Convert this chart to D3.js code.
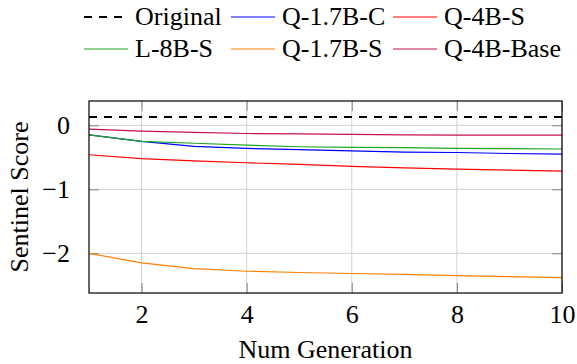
<!DOCTYPE html>
<html>
<head>
<meta charset="utf-8">
<script src="https://cdn.jsdelivr.net/npm/d3@7"></script>
<style>
  body { margin: 0; background: #fff; }
</style>
</head>
<body>
<svg></svg>
<script>
const width = 577;
const height = 364;

// x values (number of generations)
const generations = [1, 2, 3, 4, 5, 6, 7, 8, 9, 10];

// series values
const original   = [0.13, 0.13, 0.13, 0.13, 0.13, 0.13, 0.13, 0.13, 0.13, 0.13];
const q17bC      = [-0.15, -0.25, -0.33, -0.36, -0.38, -0.40, -0.42, -0.425, -0.44, -0.45];
const q4bS       = [-0.46, -0.52, -0.555, -0.585, -0.61, -0.64, -0.665, -0.685, -0.70, -0.715];
const l8bS       = [-0.15, -0.25, -0.28, -0.31, -0.335, -0.345, -0.35, -0.36, -0.365, -0.37];
const q17bS      = [-2.0, -2.15, -2.24, -2.28, -2.30, -2.315, -2.33, -2.35, -2.365, -2.38];
const q4bBase    = [-0.06, -0.09, -0.11, -0.128, -0.133, -0.143, -0.148, -0.152, -0.153, -0.154];

const seriesNames = ["Original", "Q-1.7B-C", "Q-4B-S", "L-8B-S", "Q-1.7B-S", "Q-4B-Base"];
const seriesValues = [original, q17bC, q4bS, l8bS, q17bS, q4bBase];

const xTicks = [2, 4, 6, 8, 10];
const yTicks = [0, -1, -2];

const colors = ["#000000", "#0000ff", "#ff0000", "#1fa51f", "#ff8000", "#c8104f"];

const series = seriesNames.map((name, i) => ({
  name: name,
  color: colors[i],
  dashed: i === 0,
  points: generations.map((g, j) => ({ x: g, y: seriesValues[i][j] }))
}));

// plot box
const plotLeft = 89, plotRight = 562, plotTop = 101, plotBottom = 293;
const serif = '"Liberation Serif", "Times New Roman", serif';

const svg = d3.select("svg")
  .attr("width", width)
  .attr("height", height);

const x = d3.scaleLinear().domain([1, 10]).range([plotLeft, plotRight]);
const y = d3.scaleLinear().domain([-2.62, 0.38]).range([plotBottom, plotTop]);

// grid
svg.append("g")
  .selectAll("line")
  .data(xTicks)
  .enter().append("line")
  .attr("x1", d => x(d)).attr("x2", d => x(d))
  .attr("y1", plotTop).attr("y2", plotBottom)
  .attr("stroke", "#d0d0d0")
  .attr("stroke-width", 1);

svg.append("g")
  .selectAll("line")
  .data(yTicks)
  .enter().append("line")
  .attr("x1", plotLeft).attr("x2", plotRight)
  .attr("y1", d => y(d)).attr("y2", d => y(d))
  .attr("stroke", "#d0d0d0")
  .attr("stroke-width", 1);

// inward tick marks on all four sides
const tickLen = 10;
function styleTicks(g) {
  g.select(".domain").remove();
  g.attr("font-family", serif).attr("font-size", 26);
  g.selectAll(".tick line").attr("stroke", "#888").attr("stroke-width", 1);
}

svg.append("g")
  .attr("transform", "translate(0," + plotBottom + ")")
  .call(d3.axisBottom(x).tickValues(xTicks).tickSizeInner(-tickLen).tickSizeOuter(0).tickPadding(14))
  .call(styleTicks)
  .call(g => g.selectAll(".tick text").attr("dy", "0.6em"));

svg.append("g")
  .attr("transform", "translate(0," + plotTop + ")")
  .call(d3.axisTop(x).tickValues(xTicks).tickSizeInner(-tickLen).tickSizeOuter(0).tickFormat(""))
  .call(styleTicks);

svg.append("g")
  .attr("transform", "translate(" + plotLeft + ",0)")
  .call(d3.axisLeft(y).tickValues(yTicks).tickSizeInner(-tickLen).tickSizeOuter(0).tickPadding(19)
    .tickFormat(d => d < 0 ? "\u2212" + Math.abs(d) : String(d)))
  .call(styleTicks);

svg.append("g")
  .attr("transform", "translate(" + plotRight + ",0)")
  .call(d3.axisRight(y).tickValues(yTicks).tickSizeInner(-tickLen).tickSizeOuter(0).tickFormat(""))
  .call(styleTicks);

// lines
svg.append("clipPath").attr("id", "plot-clip")
  .append("rect")
  .attr("x", plotLeft).attr("y", plotTop)
  .attr("width", plotRight - plotLeft).attr("height", plotBottom - plotTop);

const line = d3.line()
  .x(d => x(d.x))
  .y(d => y(d.y));

svg.append("g")
  .attr("clip-path", "url(#plot-clip)")
  .selectAll("path")
  .data(series)
  .enter().append("path")
  .attr("d", d => line(d.points))
  .attr("fill", "none")
  .attr("stroke", d => d.color)
  .attr("stroke-width", d => d.dashed ? 2.2 : 1.2)
  .attr("stroke-dasharray", d => d.dashed ? "8,7" : null);

// frame
svg.append("rect")
  .attr("x", plotLeft).attr("y", plotTop)
  .attr("width", plotRight - plotLeft).attr("height", plotBottom - plotTop)
  .attr("fill", "none")
  .attr("stroke", "#000")
  .attr("stroke-width", 1.2);

// axis titles
svg.append("text")
  .attr("x", (plotLeft + plotRight) / 2)
  .attr("y", 358)
  .attr("text-anchor", "middle")
  .text("Num Generation");

svg.append("text")
  .attr("transform", "translate(28," + (plotTop + plotBottom) / 2 + ") rotate(-90)")
  .attr("text-anchor", "middle")
  .text("Sentinel Score");

// legend, 3 columns x 2 rows
const legendCols = [84, 231, 393];
const legendRows = [17, 49];

const legend = svg.append("g")
  .selectAll("g")
  .data(series)
  .enter().append("g")
  .attr("transform", (d, i) => "translate(" + legendCols[i % 3] + "," + legendRows[Math.floor(i / 3)] + ")");

legend.append("line")
  .attr("x1", 0).attr("x2", 44)
  .attr("y1", 0).attr("y2", 0)
  .attr("stroke", d => d.color)
  .attr("stroke-width", d => d.dashed ? 2.2 : 1.2)
  .attr("stroke-dasharray", d => d.dashed ? "8,7" : null);

legend.append("text")
  .attr("x", 51)
  .attr("y", 8)
  .text(d => d.name);

// one serif face for every label
svg.selectAll("text")
  .style("font-family", serif)
  .style("font-size", "26px")
  .style("fill", "#000");
</script>
</body>
</html>
